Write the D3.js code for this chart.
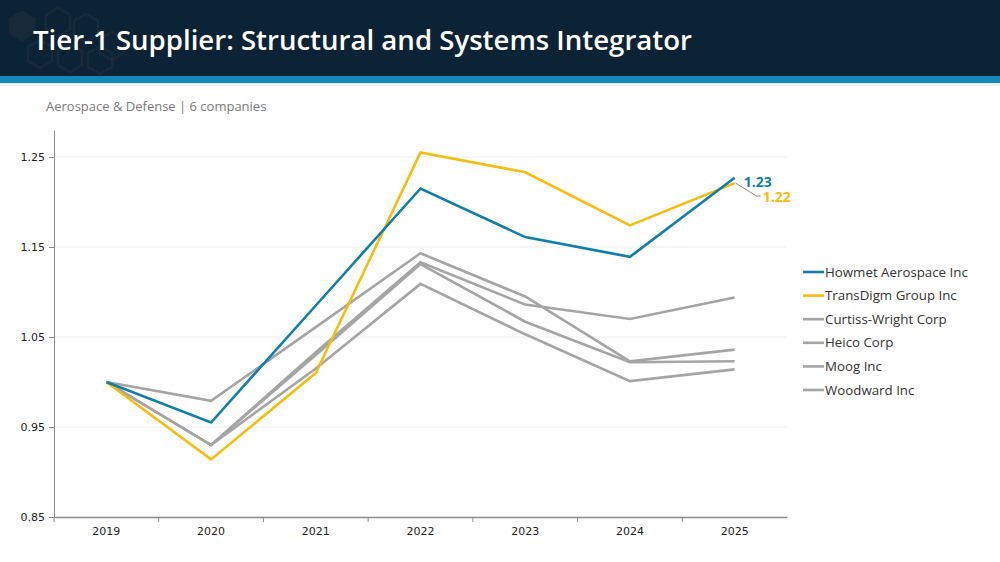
<!DOCTYPE html>
<html>
<head>
<meta charset="utf-8">
<script src="https://cdn.jsdelivr.net/npm/d3@7"></script>
<style>
  body { margin: 0; background: #fff; }
  svg { display: block; }
</style>
</head>
<body>
<script>
// data
const years = ['2019', '2020', '2021', '2022', '2023', '2024', '2025'];
const companies = ['Howmet Aerospace Inc', 'TransDigm Group Inc', 'Curtiss-Wright Corp', 'Heico Corp', 'Moog Inc', 'Woodward Inc'];
const howmet = [1.00, 0.955, 1.085, 1.215, 1.161, 1.139, 1.227];
const transdigm = [1.00, 0.914, 1.010, 1.255, 1.233, 1.174, 1.221];
const curtissWright = [1.00, 0.930, 1.033, 1.133, 1.086, 1.070, 1.094];
const heico = [1.00, 0.979, 1.061, 1.143, 1.095, 1.023, 1.036];
const moog = [1.00, 0.930, 1.015, 1.109, 1.053, 1.001, 1.014];
const woodward = [1.00, 0.930, 1.030, 1.131, 1.067, 1.022, 1.023];
const yTicks = [0.85, 0.95, 1.05, 1.15, 1.25];
const endLabels = ['1.23', '1.22'];

const colors = {
  'Howmet Aerospace Inc': '#127fa9',
  'TransDigm Group Inc': '#f5bd0c',
  other: '#a5a5a5'
};

let width = 1000;
let height = 562;
let margin = { left: 54, right: 213, top: 130, bottom: 45 };

let svg = d3.select('body').append('svg')
  .attr('width', width)
  .attr('height', height);

// header band
let drawHeader = () => {
  svg.append('rect').attr('x', 0).attr('y', 0).attr('width', width).attr('height', 76).attr('fill', '#0b2334');

  // faint hexagon pattern on the left
  let hex = (cx, cy, r) => d3.range(6).map(i => {
    let a = Math.PI / 3 * i + Math.PI / 6;
    return [cx + r * Math.cos(a), cy + r * Math.sin(a)];
  });
  let hexes = [[22, 26], [58, 22], [86, 28], [112, 46], [40, 54], [70, 58], [100, 60]];
  svg.append('g')
    .selectAll('path')
    .data(hexes)
    .enter()
    .append('path')
    .attr('d', d => 'M' + hex(d[0], d[1], 14).join('L') + 'Z')
    .attr('fill', (d, i) => i === 0 ? '#18293a' : 'none')
    .attr('stroke', '#18293a')
    .attr('stroke-width', 2.5);

  svg.append('rect').attr('x', 0).attr('y', 76).attr('width', width).attr('height', 7).attr('fill', '#1388b7');
  svg.append('rect').attr('x', 0).attr('y', 83).attr('width', width).attr('height', 3).attr('fill', '#e6f3f8');

  svg.append('text')
    .text('Tier-1 Supplier: Structural and Systems Integrator')
    .attr('x', 33)
    .attr('y', 50)
    .attr('fill', '#ffffff')
    .style('font-family', '"Open Sans", sans-serif')
    .style('font-weight', 600)
    .style('font-size', '27.6px');

  svg.append('text')
    .text('Aerospace & Defense | 6 companies')
    .attr('x', 46)
    .attr('y', 111)
    .attr('fill', '#7a7a7a')
    .style('font-family', '"Open Sans", sans-serif')
    .style('font-size', '13px');
};

let xScale = d3.scaleBand()
  .domain(years)
  .range([margin.left, width - margin.right]);

let yScale = d3.scaleLinear()
  .domain([0.85, 1.28])
  .range([height - margin.bottom, margin.top]);

let xPos = (d) => xScale(d) + xScale.bandwidth() / 2;

let drawAxes = () => {
  // gridlines
  svg.append('g')
    .selectAll('line')
    .data(yTicks.slice(1))
    .enter()
    .append('line')
    .attr('x1', margin.left)
    .attr('x2', width - margin.right)
    .attr('y1', d => yScale(d))
    .attr('y2', d => yScale(d))
    .attr('stroke', '#eeeeee')
    .attr('stroke-width', 1);

  let yAxis = d3.axisLeft(yScale)
    .tickValues(yTicks)
    .tickFormat(d3.format('.2f'))
    .tickSize(5)
    .tickSizeOuter(0);
  let gy = svg.append('g')
    .attr('transform', 'translate(' + margin.left + ',0)')
    .call(yAxis);
  gy.select('.domain').attr('stroke', '#8c8c8c');
  gy.selectAll('.tick line').attr('stroke', '#8c8c8c');
  gy.selectAll('.tick text')
    .attr('x', -9)
    .attr('fill', '#222')
    .style('font-family', '"DejaVu Sans", sans-serif')
    .style('font-size', '11px');

  let xAxis = d3.axisBottom(xScale).tickSize(0).tickSizeOuter(0);
  let gx = svg.append('g')
    .attr('transform', 'translate(0,' + (height - margin.bottom) + ')')
    .call(xAxis);
  gx.select('.domain').attr('stroke', '#8c8c8c').attr('stroke-width', 1.5);
  gx.selectAll('.tick text')
    .attr('y', 10)
    .attr('fill', '#222')
    .style('font-family', '"DejaVu Sans", sans-serif')
    .style('font-size', '11px');

  // small ticks between the categories
  svg.append('g')
    .selectAll('line')
    .data(years)
    .enter()
    .append('line')
    .attr('x1', d => xScale(d))
    .attr('x2', d => xScale(d))
    .attr('y1', height - margin.bottom)
    .attr('y2', height - margin.bottom + 5)
    .attr('stroke', '#8c8c8c');
};

let seriesList = [
  { name: companies[2], values: curtissWright },
  { name: companies[3], values: heico },
  { name: companies[4], values: moog },
  { name: companies[5], values: woodward },
  { name: companies[1], values: transdigm },
  { name: companies[0], values: howmet }
];

let colorOf = (name) => colors[name] || colors.other;

let drawLines = () => {
  let line = d3.line()
    .x((d, i) => xPos(years[i]))
    .y(d => yScale(d));
  svg.append('g')
    .selectAll('path')
    .data(seriesList)
    .enter()
    .append('path')
    .attr('d', d => line(d.values))
    .attr('fill', 'none')
    .attr('stroke', d => colorOf(d.name))
    .attr('stroke-width', 2.6)
    .attr('stroke-linejoin', 'miter');
};

let drawEndLabels = () => {
  let last = years[years.length - 1];
  let x = xPos(last);
  // Howmet label
  svg.append('text')
    .text(endLabels[0])
    .attr('x', x + 9)
    .attr('y', yScale(howmet[6]) + 9)
    .attr('fill', colors['Howmet Aerospace Inc'])
    .style('font-family', '"Open Sans", sans-serif')
    .style('font-weight', 700)
    .style('font-size', '14px');
  // TransDigm label with leader line
  let yT = yScale(transdigm[6]);
  svg.append('path')
    .attr('d', 'M' + (x + 1) + ',' + yT + 'L' + (x + 22) + ',' + (yT + 13) + 'L' + (x + 26) + ',' + (yT + 13))
    .attr('fill', 'none')
    .attr('stroke', '#8c8c8c')
    .attr('stroke-width', 1);
  svg.append('text')
    .text(endLabels[1])
    .attr('x', x + 28)
    .attr('y', yT + 19)
    .attr('fill', colors['TransDigm Group Inc'])
    .style('font-family', '"Open Sans", sans-serif')
    .style('font-weight', 700)
    .style('font-size', '14px');
};

let drawLegend = () => {
  let lx = 803;
  let ly = 272;
  let step = 23.6;
  let g = svg.append('g');
  g.selectAll('line')
    .data(companies)
    .enter()
    .append('line')
    .attr('x1', lx)
    .attr('x2', lx + 21)
    .attr('y1', (d, i) => ly + i * step)
    .attr('y2', (d, i) => ly + i * step)
    .attr('stroke', d => colorOf(d))
    .attr('stroke-width', 2.6);
  g.selectAll('text')
    .data(companies)
    .enter()
    .append('text')
    .text(d => d)
    .attr('x', lx + 22)
    .attr('y', (d, i) => ly + i * step + 4.5)
    .attr('fill', '#333')
    .style('font-family', '"Open Sans", sans-serif')
    .style('font-size', '13.3px');
};

drawHeader();
drawAxes();
drawLines();
drawEndLabels();
drawLegend();
</script>
</body>
</html>
